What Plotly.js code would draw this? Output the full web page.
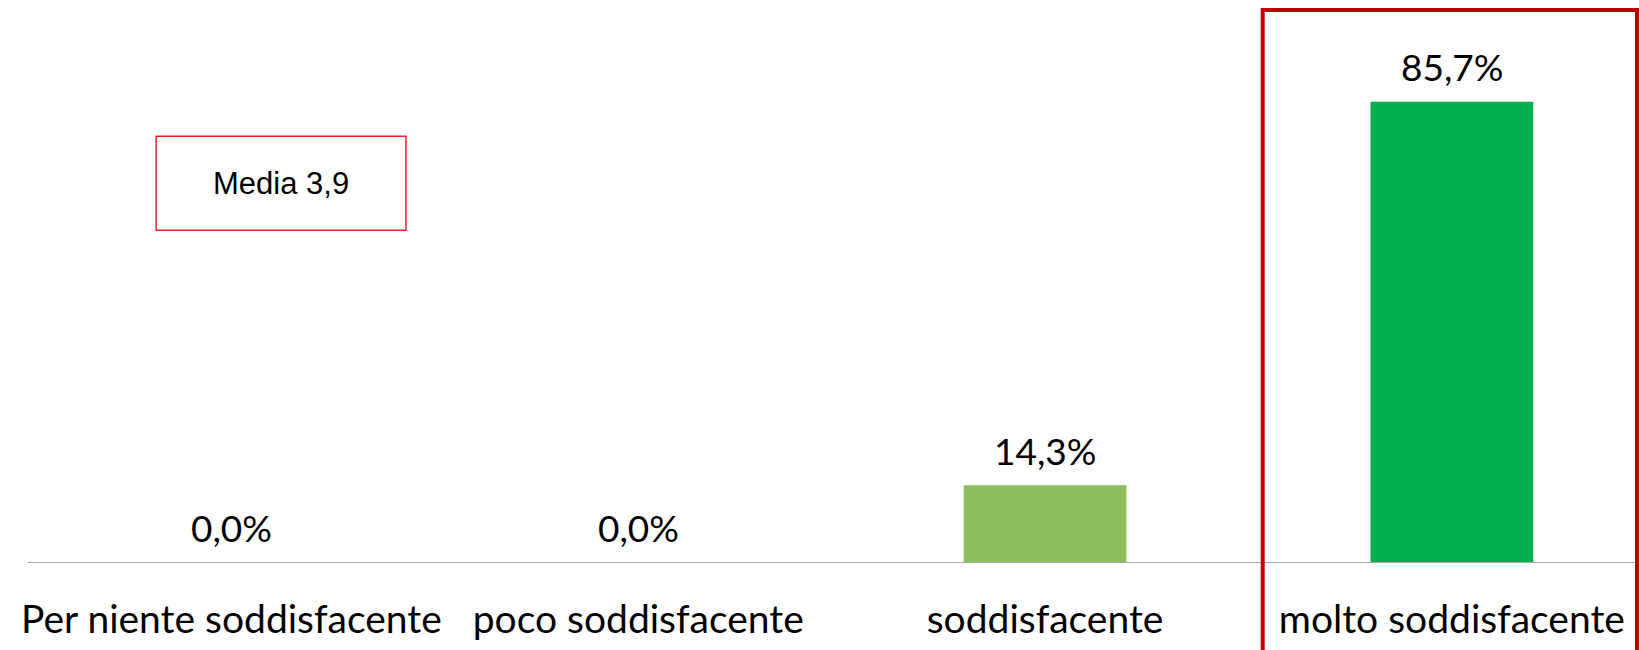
<!DOCTYPE html>
<html>
<head>
<meta charset="utf-8">
<script src="https://cdn.plot.ly/plotly-3.0.1.min.js"></script>
<style>html,body{margin:0;padding:0;background:#fff;}#chart{width:1639px;height:650px;}</style>
</head>
<body>
<div id="chart"></div>
<script>
const categories = ["Per niente soddisfacente", "poco soddisfacente", "soddisfacente", "molto soddisfacente"];
const values = [0.0, 0.0, 14.3, 85.7];
const barColors = ["#8FBE5F", "#8FBE5F", "#8FBE5F", "#00B050"];
const mediaText = "Media 3,9";

const fmt = v => v.toFixed(1).replace('.', ',') + '%';

const trace = {
  type: 'bar',
  x: [0, 1, 2, 3],
  y: values,
  width: 0.4,
  marker: {color: barColors, line: {width: 0}},
  hoverinfo: 'none'
};

const valueAnnots = values.map((v, i) => ({
  x: i, y: v, xref: 'x', yref: 'y',
  text: fmt(v), showarrow: false,
  yanchor: 'middle', yshift: 35,
  font: {family: 'Lato, sans-serif', size: 37, color: '#000'}
}));

const layout = {
  width: 1639, height: 650,
  margin: {l: 28, r: 0, t: 24.5, b: 88, pad: 0},
  paper_bgcolor: '#fff', plot_bgcolor: '#fff',
  showlegend: false,
  bargap: 0.6,
  xaxis: {
    range: [-0.5, 3.46],
    tickmode: 'array', tickvals: [0, 1, 2, 3], ticktext: categories,
    showgrid: false, zeroline: false,
    showline: true, linecolor: '#A6A6A6', linewidth: 1.3,
    ticks: '', ticklabelstandoff: 23,
    tickfont: {family: 'Lato, sans-serif', size: 39, color: '#000'},
    fixedrange: true
  },
  yaxis: {
    range: [0, 100], visible: false, showgrid: false, zeroline: false, fixedrange: true
  },
  shapes: [
    {type: 'rect', xref: 'x', yref: 'paper', x0: 2.535, x1: 3.455, y0: -0.3, y1: 1.028,
     line: {color: '#C00000', width: 4}, fillcolor: 'rgba(0,0,0,0)', layer: 'above'},
    {type: 'rect', xref: 'x', yref: 'y', x0: -0.185, x1: 0.429, y0: 61.8, y1: 79.3,
     line: {color: '#E0262B', width: 1.5}, fillcolor: '#fff', layer: 'above'}
  ],
  annotations: valueAnnots.concat([
    {x: 0.122, y: 70.55, xref: 'x', yref: 'y', text: mediaText, showarrow: false,
     xanchor: 'center', yanchor: 'middle',
     font: {family: 'Liberation Sans, Arial, sans-serif', size: 31, color: '#000'}}
  ])
};

Plotly.newPlot('chart', [trace], layout, {displayModeBar: false, staticPlot: true});
</script>
</body>
</html>
